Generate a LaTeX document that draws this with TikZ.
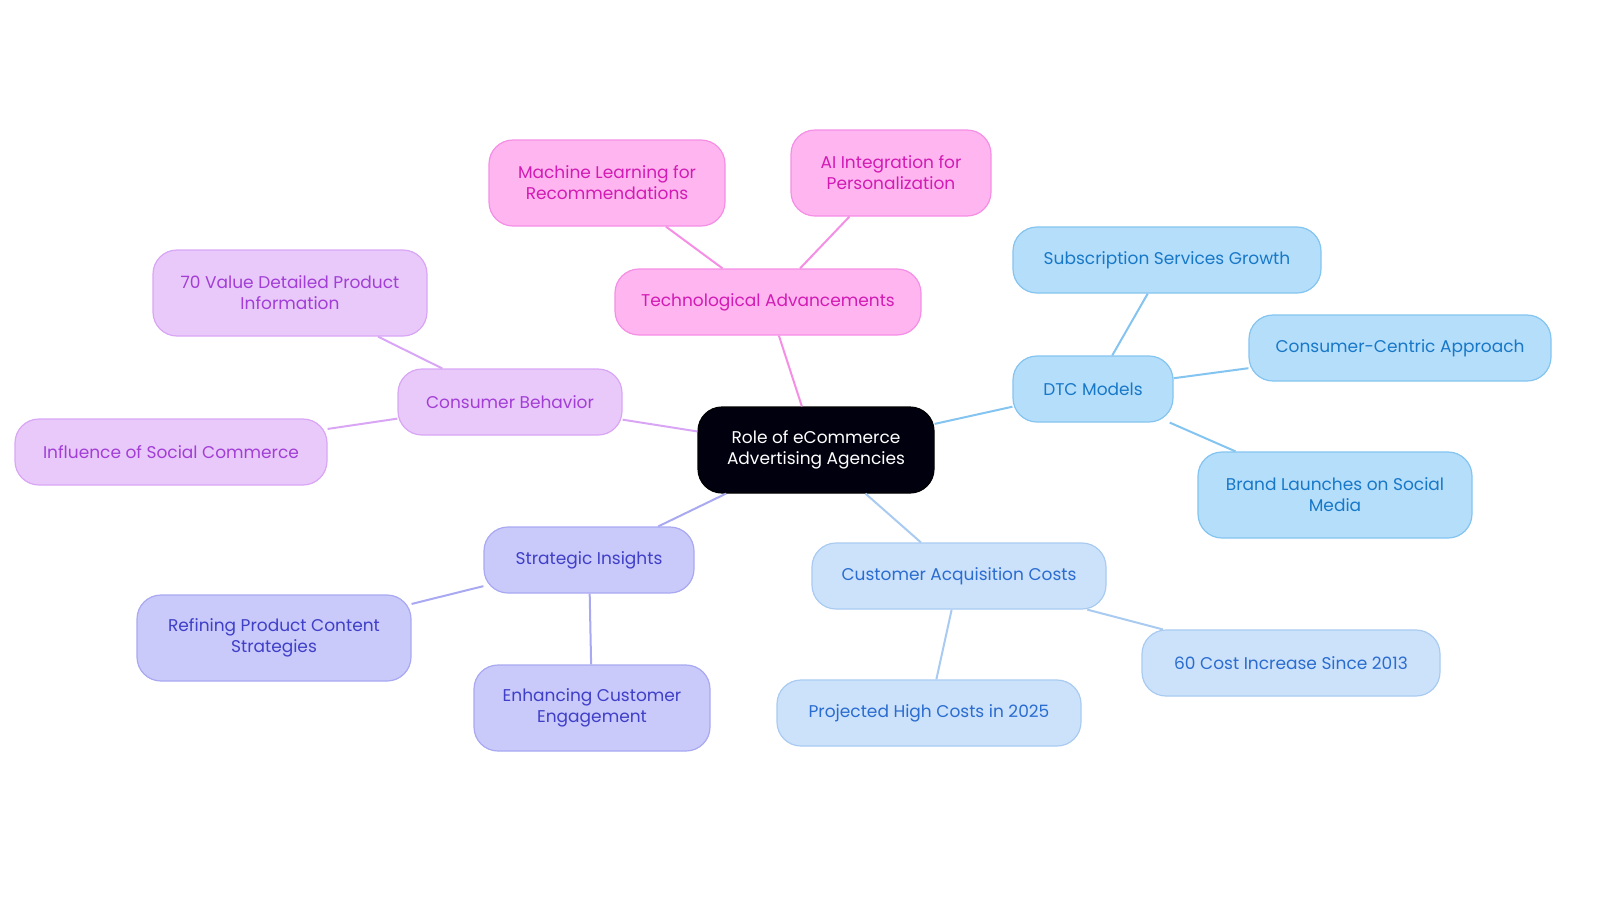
\documentclass[tikz,border=0pt]{standalone}
\usepackage{fontspec}
\setmainfont{Poppins}
\begin{document}
\begin{tikzpicture}[x=1pt,y=-1pt,
 base/.style={draw,rounded corners=24pt,line width=1.2pt,align=center,font=\fontsize{17}{21}\selectfont,inner sep=0pt},
 tech/.style={base,fill=pinkf,draw=pinkd,text=pinkt},
 cons/.style={base,fill=purf,draw=purd,text=purt},
 strat/.style={base,fill=indf,draw=indd,text=indt},
 cac/.style={base,fill=cacf,draw=cacd,text=cact},
 dtc/.style={base,fill=dtcf,draw=dtcd,text=dtct},
 e/.style={line width=2pt}]
\definecolor{pinkf}{HTML}{FFB5F0}\definecolor{pinkd}{HTML}{F58FE6}\definecolor{pinkt}{HTML}{D21BB4}
\definecolor{purf}{HTML}{E9C9FA}\definecolor{purd}{HTML}{D9A6F5}\definecolor{purt}{HTML}{A23ED6}
\definecolor{indf}{HTML}{C9C9FA}\definecolor{indd}{HTML}{A9A9F2}\definecolor{indt}{HTML}{3F3FC8}
\definecolor{cacf}{HTML}{CCE2FA}\definecolor{cacd}{HTML}{A9CBF2}\definecolor{cact}{HTML}{2A6CD0}
\definecolor{dtcf}{HTML}{B5DEFA}\definecolor{dtcd}{HTML}{84C4F0}\definecolor{dtct}{HTML}{1878C8}
\useasboundingbox (0,0) rectangle (1600,903);
\fill[white] (0,0) rectangle (1600,903);
\node[base,fill=black!90!blue!60!black,draw=black,text=white,minimum width=236pt,minimum height=86pt] (c) at (816,450) {Role of eCommerce\\Advertising Agencies};
\node[tech,minimum width=306pt,minimum height=66pt] (t) at (768,302) {Technological Advancements};
\node[tech,minimum width=236pt,minimum height=86pt] (t1) at (607,183) {Machine Learning for\\Recommendations};
\node[tech,minimum width=200pt,minimum height=86pt] (t2) at (891,173) {AI Integration for\\Personalization};
\node[cons,minimum width=224pt,minimum height=66pt] (b) at (510,402) {Consumer Behavior};
\node[cons,minimum width=274pt,minimum height=86pt] (b1) at (290,293) {70 Value Detailed Product\\Information};
\node[cons,minimum width=312pt,minimum height=66pt] (b2) at (171,452) {Influence of Social Commerce};
\node[strat,minimum width=210pt,minimum height=66pt] (s) at (589,560) {Strategic Insights};
\node[strat,minimum width=274pt,minimum height=86pt] (s1) at (274,638) {Refining Product Content\\Strategies};
\node[strat,minimum width=236pt,minimum height=86pt] (s2) at (592,708) {Enhancing Customer\\Engagement};
\node[cac,minimum width=294pt,minimum height=66pt] (a) at (959,576) {Customer Acquisition Costs};
\node[cac,minimum width=304pt,minimum height=66pt] (a1) at (929,713) {Projected High Costs in 2025};
\node[cac,minimum width=298pt,minimum height=66pt] (a2) at (1291,663) {60 Cost Increase Since 2013};
\node[dtc,minimum width=160pt,minimum height=66pt] (d) at (1093,389) {DTC Models};
\node[dtc,minimum width=308pt,minimum height=66pt] (d1) at (1167,260) {Subscription Services Growth};
\node[dtc,minimum width=302pt,minimum height=66pt] (d2) at (1400,348) {Consumer-Centric Approach};
\node[dtc,minimum width=274pt,minimum height=86pt] (d3) at (1335,495) {Brand Launches on Social\\Media};
\begin{scope}[on background layer/.style={}]
\end{scope}
\draw[e,pinkd] (c) -- (t); \draw[e,pinkd] (t) -- (t1); \draw[e,pinkd] (t) -- (t2);
\draw[e,purd] (c) -- (b); \draw[e,purd] (b) -- (b1); \draw[e,purd] (b) -- (b2);
\draw[e,indd] (c) -- (s); \draw[e,indd] (s) -- (s1); \draw[e,indd] (s) -- (s2);
\draw[e,cacd] (c) -- (a); \draw[e,cacd] (a) -- (a1); \draw[e,cacd] (a) -- (a2);
\draw[e,dtcd] (c) -- (d); \draw[e,dtcd] (d) -- (d1); \draw[e,dtcd] (d) -- (d2); \draw[e,dtcd] (d) -- (d3);
\end{tikzpicture}
\end{document}
